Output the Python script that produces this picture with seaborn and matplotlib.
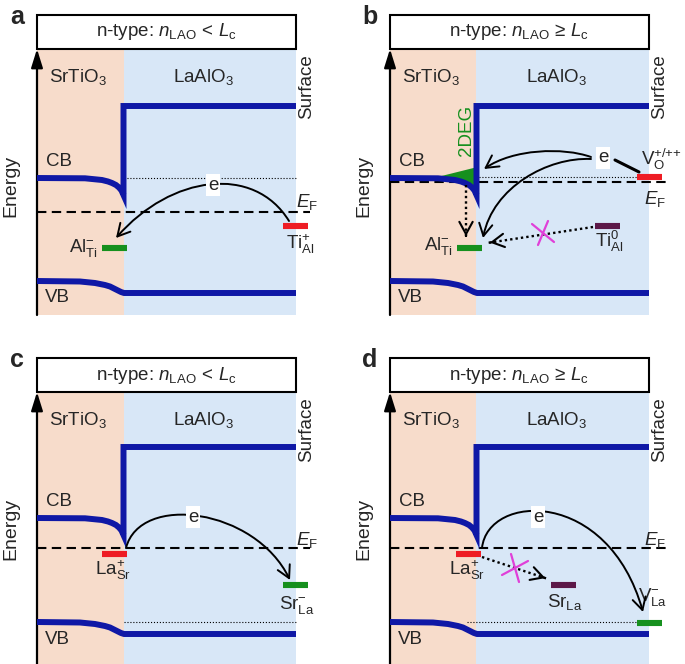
import numpy as np
import matplotlib
matplotlib.use("Agg")
import matplotlib.pyplot as plt
import seaborn as sns
from matplotlib.patches import Rectangle, FancyArrowPatch
from matplotlib.path import Path

sns.set_theme(style="white")
plt.rcParams["font.family"] = ["Liberation Sans", "DejaVu Sans"]
plt.rcParams["mathtext.fontset"] = "custom"
plt.rcParams["mathtext.rm"] = "Liberation Sans"
plt.rcParams["mathtext.it"] = "Liberation Sans:italic"
plt.rcParams["mathtext.bf"] = "Liberation Sans:bold"

# --- data: position along the stack (arb. units) and energy (arb. units) ---
panel_letters = ["a", "b", "c", "d"]
panel_titles = [
    r"n-type: $n_{\mathrm{LAO}}\,<\,L_{\mathrm{c}}$",
    r"n-type: $n_{\mathrm{LAO}}\,\geq\,L_{\mathrm{c}}$",
    r"n-type: $n_{\mathrm{LAO}}\,<\,L_{\mathrm{c}}$",
    r"n-type: $n_{\mathrm{LAO}}\,\geq\,L_{\mathrm{c}}$",
]
x_axis = 37
x_interface = 123.5
x_surface = 296

cb_x = [37, 85, 102, 108, 112, 116, 119, 121.5, 123.5, 123.5, 296]
cb_e_top = [137, 136.7, 135, 133.5, 132, 130, 127.5, 124.5, 120, 209, 209]
cb_e_bottom = [140, 139.7, 138, 136.5, 135, 133, 130.5, 127.5, 123, 211, 211]
vb_x = [37, 80, 95, 105, 110, 114, 118, 121, 124, 296]
vb_e_top = [34, 33.5, 32, 30, 28.5, 26.5, 24.5, 23, 22, 22]
vb_e_bottom = [36, 35.5, 34, 32, 30.5, 28.5, 26.5, 25, 24, 24]
fermi_levels = [103, 133, 110, 110]

# defect levels: label, left end of level, energy
a_defects = [r"$\mathrm{Ti}_{\mathrm{Al}}^{+}$", r"$\mathrm{Al}_{\mathrm{Ti}}^{-}$"]
a_defect_x = [283, 102]
a_defect_e = [89, 67]
b_defects = [r"$\mathrm{V}_{\mathrm{O}}^{\text{+/++}}$", r"$\mathrm{Ti}_{\mathrm{Al}}^{0}$",
             r"$\mathrm{Al}_{\mathrm{Ti}}^{-}$"]
b_defect_x = [284, 242, 104]
b_defect_e = [138, 89, 67]
c_defects = [r"$\mathrm{La}_{\mathrm{Sr}}^{+}$", r"$\mathrm{Sr}_{\mathrm{La}}^{-}$"]
c_defect_x = [102, 283]
c_defect_e = [104, 73]
d_defects = [r"$\mathrm{La}_{\mathrm{Sr}}^{+}$", r"$\mathrm{Sr}_{\mathrm{La}}$",
             r"$\mathrm{V}_{\mathrm{La}}^{-}$"]
d_defect_x = [103, 198, 284]
d_defect_e = [104, 73, 35]
# 2DEG wedge top edge (panel b)
twodeg_x = [84, 122]
twodeg_e = [138.5, 148]

BAND = "#0f18a6"
RED = "#ee1c24"
GREEN = "#16901e"
PURPLE = "#5c1848"
MAGENTA = "#e040d8"
STO_BG = "#f7dccb"
LAO_BG = "#d8e7f7"
LEVEL_W = 25
FS = 13.5


def level(ax, x0, e, color):
    ax.plot([x0, x0 + LEVEL_W], [e, e], color=color, lw=4.4, solid_capstyle="butt", zorder=5)


def curve(ax, p0, c1, c2, p3, head=True, lw=1.4):
    path = Path([p0, c1, c2, p3], [Path.MOVETO, Path.CURVE4, Path.CURVE4, Path.CURVE4])
    style = "->,head_length=0.55,head_width=0.3" if head else "-"
    ax.add_patch(FancyArrowPatch(path=path, arrowstyle=style, mutation_scale=16,
                                 lw=lw, color="black", zorder=6))


def dotted_arrow(ax, p0, p1):
    ax.plot([p0[0], p1[0]], [p0[1], p1[1]], color="black", lw=1.7,
            linestyle=(0, (1, 1.3)), zorder=6)
    d = np.array(p1) - np.array(p0)
    d = d / np.hypot(*d)
    ax.annotate("", xy=p1, xytext=(p1[0] - 6 * d[0], p1[1] - 6 * d[1]),
                arrowprops=dict(arrowstyle="->,head_length=0.55,head_width=0.3",
                                mutation_scale=16, lw=1.5, color="black"), zorder=6)


def cross(ax, c, v1, v2):
    for v in (v1, v2):
        ax.plot([c[0] - v[0], c[0] + v[0]], [c[1] - v[1], c[1] + v[1]],
                color=MAGENTA, lw=1.6, zorder=7)


def e_label(ax, x, y):
    ax.text(x, y, "e", ha="center", va="center", fontsize=FS, zorder=8,
            bbox=dict(boxstyle="square,pad=0.12", fc="white", ec="none"))


def base_panel(ax, letter, title, cb_e, vb_e, ef, shade_bottom, ef_end, ef_label):
    ax.set_axis_off()
    ax.add_patch(Rectangle((x_axis, shade_bottom), x_interface - x_axis, 265 - shade_bottom,
                           fc=STO_BG, ec="none", zorder=0))
    ax.add_patch(Rectangle((x_interface, shade_bottom), x_surface - x_interface,
                           265 - shade_bottom, fc=LAO_BG, ec="none", zorder=0))
    ax.add_patch(Rectangle((x_axis, 266), x_surface - x_axis, 34, fc="white",
                           ec="black", lw=1.5, zorder=3))
    ax.text((x_axis + x_surface) / 2, 283, title, ha="center", va="center", fontsize=FS, zorder=4)
    ax.text(17, 298, letter, ha="center", va="center", fontsize=18, fontweight="bold")
    ax.annotate("", xy=(x_axis, 266), xytext=(x_axis, shade_bottom),
                arrowprops=dict(arrowstyle="-|>,head_length=0.8,head_width=0.25",
                                mutation_scale=14, lw=1.6, color="black",
                                shrinkA=0, shrinkB=0), zorder=4)
    sns.lineplot(x=cb_x, y=cb_e, sort=False, estimator=None, color=BAND, lw=4.3,
                 ax=ax, legend=False, zorder=4, solid_joinstyle="miter",
                 solid_capstyle="butt")
    sns.lineplot(x=vb_x, y=vb_e, sort=False, estimator=None, color=BAND, lw=4.3,
                 ax=ax, legend=False, zorder=4, solid_capstyle="butt")
    ax.plot([x_axis, ef_end], [ef, ef], color="black", lw=1.5,
            linestyle=(0, (4.5, 2.6)), zorder=2)
    ax.text(ef_label[0], ef_label[1], r"$E_{\mathrm{F}}$", ha="center", va="center", fontsize=FS)
    ax.text(78, 238, r"SrTiO$_3$", ha="center", va="center", fontsize=FS)
    ax.text(204, 238, r"LaAlO$_3$", ha="center", va="center", fontsize=FS)
    ax.text(307, 228, "Surface", rotation=90, ha="center", va="center", fontsize=FS)
    ax.text(11, 129, "Energy", rotation=90, ha="center", va="center", fontsize=14)
    ax.text(59, cb_e[0] + 17, "CB", ha="center", va="center", fontsize=FS)
    ax.text(57, vb_e[0] - 17, "VB", ha="center", va="center", fontsize=FS)


fig = plt.figure(figsize=(6.85, 6.64), dpi=100)
origins = [(0, 0, 332), (353, 0, 332), (0, 343, 321), (353, 343, 321)]
axes = []
for ox, oy, h in origins:
    ax = fig.add_axes([ox / 685, 1 - (oy + h) / 664, 340 / 685, h / 664])
    ax.set_xlim(0, 340)
    ax.set_ylim(315 - h, 315)
    axes.append(ax)

# ---- panel a ----
ax = axes[0]
base_panel(ax, "a", panel_titles[0], cb_e_top, vb_e_top, fermi_levels[0], 0, 310, (307, 113))
ax.plot([x_interface, x_surface], [cb_e_top[0]] * 2, color="black", lw=0.8, ls=":", zorder=2)
level(ax, a_defect_x[0], a_defect_e[0], RED)
level(ax, a_defect_x[1], a_defect_e[1], GREEN)
ax.text(a_defect_x[0] + 17, a_defect_e[0] - 18, a_defects[0], ha="center", va="center", fontsize=FS)
ax.text(a_defect_x[1] - 4, a_defect_e[1], a_defects[1], ha="right", va="center", fontsize=FS)
p0 = (a_defect_x[0] + 6, a_defect_e[0] + 5)
p3 = (a_defect_x[1] + 14, a_defect_e[1] + 10)
curve(ax, p0, (p0[0] - 35, p0[1] + 57), (p3[0] + 55, p3[1] + 63), p3)
e_label(ax, 213, 130)

# ---- panel b ----
ax = axes[1]
base_panel(ax, "b", panel_titles[1], cb_e_top, vb_e_top, fermi_levels[1], 0, 315, (302, 116))
xs = np.linspace(twodeg_x[0], twodeg_x[1], 40)
ax.fill_between(xs, np.interp(xs, cb_x[:9], cb_e_top[:9]), np.interp(xs, twodeg_x, twodeg_e),
                color=GREEN, lw=0, zorder=3)
ax.text(114, 185, "2DEG", rotation=90, ha="center", va="center", fontsize=FS, color=GREEN)
ax.plot([x_interface, b_defect_x[0]], [b_defect_e[0]] * 2, color="black", lw=0.8, ls=":", zorder=2)
for x0, e, col in zip(b_defect_x, b_defect_e, [RED, PURPLE, GREEN]):
    level(ax, x0, e, col)
ax.text(b_defect_x[0] + 24, b_defect_e[0] + 18, b_defects[0], ha="center", va="center", fontsize=FS)
ax.text(b_defect_x[1] + 14, b_defect_e[1] - 15, b_defects[1], ha="center", va="center", fontsize=FS)
ax.text(b_defect_x[2] - 4, b_defect_e[2] + 2, b_defects[2], ha="right", va="center", fontsize=FS)
# electron from V_O to the interface and to Al_Ti
ax.plot([b_defect_x[0] + 2, 262], [b_defect_e[0] + 5, 155], color="black", lw=2.2, zorder=6)
e_label(ax, 250, 157)
curve(ax, (238, 158), (210, 168), (160, 166), (131, 146))
curve(ax, (238, 156), (195, 158), (140, 128), (b_defect_x[2] + 26, b_defect_e[2] + 10))
dotted_arrow(ax, (113, 130), (113, 76))
dotted_arrow(ax, (b_defect_x[1] - 2, b_defect_e[1] - 1), (b_defect_x[2] + 30, b_defect_e[2] + 5))
cross(ax, (190, 82), (11, -9), (5, 12))

# ---- panel c ----
ax = axes[2]
base_panel(ax, "c", panel_titles[2], cb_e_bottom, vb_e_bottom, fermi_levels[2], -6, 310, (307, 118))
ax.plot([x_interface, x_surface], [vb_e_bottom[0]] * 2, color="black", lw=0.8, ls=":", zorder=2)
level(ax, c_defect_x[0], c_defect_e[0], RED)
level(ax, c_defect_x[1], c_defect_e[1], GREEN)
ax.text(c_defect_x[0] + 11, c_defect_e[0] - 16, c_defects[0], ha="center", va="center", fontsize=FS)
ax.text(c_defect_x[1] + 14, c_defect_e[1] - 20, c_defects[1], ha="center", va="center", fontsize=FS)
p0 = (c_defect_x[0] + 24, fermi_levels[2])
p3 = (c_defect_x[1] + 7, c_defect_e[1] + 5)
curve(ax, p0, (140, 165), (255, 150), p3)
e_label(ax, 193, 141)

# ---- panel d ----
ax = axes[3]
base_panel(ax, "d", panel_titles[3], cb_e_bottom, vb_e_bottom, fermi_levels[3], -6, 315, (302, 118))
ax.plot([114, d_defect_x[2]], [vb_e_bottom[0]] * 2, color="black", lw=0.8, ls=":", zorder=2)
for x0, e, col in zip(d_defect_x, d_defect_e, [RED, PURPLE, GREEN]):
    level(ax, x0, e, col)
ax.text(d_defect_x[0] + 11, d_defect_e[0] - 16, d_defects[0], ha="center", va="center", fontsize=FS)
ax.text(d_defect_x[1] + 14, d_defect_e[1] - 17, d_defects[1], ha="center", va="center", fontsize=FS)
ax.text(d_defect_x[2] + 16, d_defect_e[2] + 26, d_defects[2], ha="center", va="center", fontsize=FS)
p0 = (d_defect_x[0] + 26, fermi_levels[3])
p3 = (d_defect_x[2] + 6, d_defect_e[2] + 11)
curve(ax, p0, (135, 165), (255, 170), p3)
e_label(ax, 185, 141)
dotted_arrow(ax, (d_defect_x[0] + 26, d_defect_e[0] - 3), (d_defect_x[1] - 3, d_defect_e[1] + 6))
cross(ax, (162, 90), (13, 7), (-4, 14))

fig.savefig("out.png", dpi=100)
